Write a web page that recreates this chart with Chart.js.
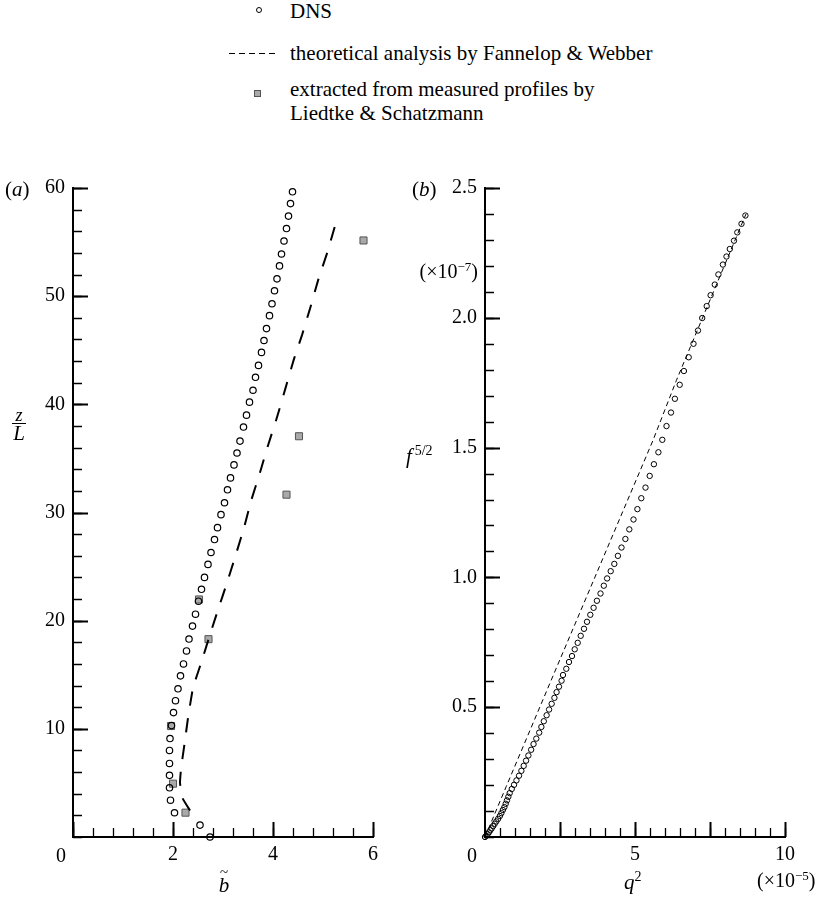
<!DOCTYPE html>
<html>
<head>
    <title>DNS vs Fannelop &amp; Webber vs Liedtke &amp; Schatzmann</title>
    <style>
        body {
            margin: 0;
            padding: 0;
            background-color: #ffffff;
            font-family: 'Liberation Serif', 'Times New Roman', serif;
            color: #000;
        }
        #wrap {
            position: relative;
            width: 823px;
            height: 901px;
            overflow: hidden;
        }
        .box {
            position: absolute;
        }
        .lbl {
            position: absolute;
            line-height: 1;
            white-space: nowrap;
        }
        .lbl sup {
            font-size: 0.65em;
            vertical-align: 0.55em;
            line-height: 0;
        }
        .it {
            font-style: italic;
        }
    </style>
    <script src="https://cdn.jsdelivr.net/npm/chart.js"></script>
</head>
<body>
<div id="wrap">
    <!-- legend -->
    <div class="box" style="left:256px;top:7px;width:6px;height:6px;border:1px solid #000;border-radius:50%;box-sizing:border-box;"></div>
    <div class="lbl" style="left:290px;top:1.4px;font-size:21px;">DNS</div>
    <div class="box" style="left:229px;top:53px;width:49px;height:1px;background:repeating-linear-gradient(90deg,#000 0 6px,transparent 6px 10px);"></div>
    <div class="lbl" style="left:290px;top:43.1px;font-size:21px;">theoretical analysis by Fannelop &amp; Webber</div>
    <div class="box" style="left:254px;top:90px;width:7px;height:7px;background:#a9a9a9;border:1px solid #555;box-sizing:border-box;"></div>
    <div class="lbl" style="left:290px;top:79.1px;font-size:21px;">extracted from measured profiles by</div>
    <div class="lbl" style="left:290px;top:103.1px;font-size:21px;">Liedtke &amp; Schatzmann</div>

    <div class="box" style="left:0;top:150px;"><canvas id="chartA" width="410" height="751"></canvas></div>
    <div class="box" style="left:410px;top:150px;"><canvas id="chartB" width="413" height="751"></canvas></div>

    <!-- panel (a) labels -->
    <div class="lbl" style="left:5px;top:179.1px;font-size:21px;">(<span class="it">a</span>)</div>
    <div class="lbl it" style="left:19px;top:405.9px;font-size:18px;transform:translateX(-50%);">z</div>
    <div class="box" style="left:12px;top:423px;width:14px;height:1px;background:#000;"></div>
    <div class="lbl it" style="left:19px;top:423.4px;font-size:21px;transform:translateX(-50%);">L</div>
    <div class="lbl" style="left:61px;top:845.3px;font-size:20px;transform:translateX(-50%);">0</div>
    <div class="lbl it" style="left:224px;top:875.4px;font-size:21px;transform:translateX(-50%);">b</div>
    <div class="lbl" style="left:220px;top:865px;font-size:15px;">~</div>

    <!-- panel (b) labels -->
    <div class="lbl" style="left:412px;top:179.1px;font-size:21px;">(<span class="it">b</span>)</div>
    <div class="lbl" style="right:345px;top:261.3px;font-size:20px;">(×10<sup>−7</sup>)</div>
    <div class="lbl" style="left:406px;top:446.4px;font-size:21px;"><span class="it">f</span><sup style="font-size:14px;vertical-align:8px;">&thinsp;5/2</sup></div>
    <div class="lbl" style="left:472px;top:845.3px;font-size:20px;transform:translateX(-50%);">0</div>
    <div class="lbl" style="left:624px;top:872.4px;font-size:21px;"><span class="it">q</span><sup style="font-size:14px;vertical-align:8px;">2</sup></div>
    <div class="lbl" style="left:757px;top:870.4px;font-size:20px;">(×10<sup>−5</sup>)</div>
</div>

<script>
    // ---- panel (a): b~ against z/L ----
    const dnsB = [2.74, 2.54, 2.03, 1.95, 1.93, 1.93, 1.93, 1.93, 1.94, 1.97,
                  2.01, 2.05, 2.10, 2.15, 2.21, 2.27, 2.32, 2.39, 2.45, 2.51,
                  2.57, 2.63, 2.70, 2.76, 2.83, 2.89, 2.96, 3.03, 3.09, 3.15,
                  3.22, 3.28, 3.34, 3.41, 3.47, 3.53, 3.60, 3.65, 3.71, 3.77,
                  3.82, 3.87, 3.93, 3.98, 4.03, 4.08, 4.13, 4.17, 4.22, 4.27,
                  4.31, 4.35, 4.39];
    const dnsZ = [0, 1.1, 2.24, 3.4, 4.55, 5.7, 6.8, 8.0, 9.1, 10.3,
                  11.5, 12.6, 13.7, 14.9, 16.0, 17.2, 18.3, 19.5, 20.6, 21.8,
                  22.9, 24.0, 25.2, 26.3, 27.5, 28.6, 29.8, 30.9, 32.1, 33.2,
                  34.4, 35.5, 36.6, 37.9, 39.0, 40.2, 41.3, 42.5, 43.6, 44.8,
                  45.9, 47.0, 48.2, 49.3, 50.5, 51.6, 52.8, 53.9, 55.1, 56.25,
                  57.4, 58.56, 59.65];

    const lsB = [2.25, 2.0, 1.96, 2.71, 2.52, 4.27, 4.52, 5.81];
    const lsZ = [2.25, 4.93, 10.26, 18.29, 21.96, 31.65, 37.05, 55.15];

    const fwB = [2.34, 2.19, 2.14, 2.16, 2.23, 2.30, 2.40, 2.57, 2.76, 2.90, 3.08, 3.25,
                 3.42, 3.57, 3.74, 3.90, 4.08, 4.25, 4.42, 4.58, 4.75, 4.91, 5.09, 5.29];
    const fwZ = [2.45, 3.6, 5.0, 6.3, 8.6, 11.0, 13.8, 16.2, 19.0, 21.0, 23.5, 26.0,
                 28.6, 31.2, 33.7, 36.2, 38.8, 41.5, 44.2, 46.4, 49.0, 51.6, 54.1, 57.3];

    const ticksAX = [0, 2, 4, 6];
    const ticksAY = [10, 20, 30, 40, 50, 60];

    // ---- panel (b): q^2 (x1e-5) against f^(5/2) (x1e-7) ----
    const dnsQ2 = [0, 0.044, 0.088, 0.131, 0.179, 0.222, 0.272, 0.323, 0.377, 0.437,
                   0.496, 0.546, 0.596, 0.646, 0.69, 0.732, 0.778, 0.823, 0.892, 0.968,
                   1.048, 1.134, 1.212, 1.29, 1.368, 1.446, 1.538, 1.618, 1.71, 1.807,
                   1.879, 1.96, 2.054, 2.136, 2.222, 2.314, 2.386, 2.467, 2.552,
                   2.6, 2.71, 2.8, 2.9, 2.99, 3.09, 3.19, 3.3, 3.4, 3.51,
                   3.62, 3.73, 3.85, 3.96, 4.07, 4.19, 4.31, 4.43, 4.55, 4.68,
                   4.81, 4.95, 5.08, 5.21, 5.35, 5.49, 5.63, 5.78, 5.91, 6.05,
                   6.2, 6.33, 6.49, 6.63, 6.79, 6.95, 7.1, 7.24, 7.39, 7.52,
                   7.66, 7.78, 7.93, 8.05, 8.16, 8.3, 8.41, 8.55, 8.68];
    const dnsF52 = [0, 0.005, 0.011, 0.018, 0.026, 0.033, 0.042, 0.051, 0.060, 0.070,
                    0.081, 0.092, 0.104, 0.115, 0.128, 0.141, 0.155, 0.169, 0.185, 0.201,
                    0.218, 0.236, 0.255, 0.274, 0.294, 0.314, 0.336, 0.358, 0.379, 0.402,
                    0.424, 0.446, 0.469, 0.491, 0.513, 0.536, 0.558, 0.579, 0.602,
                    0.624, 0.648, 0.674, 0.697, 0.723, 0.748, 0.775, 0.802, 0.829, 0.856,
                    0.883, 0.91, 0.938, 0.968, 0.996, 1.024, 1.052, 1.083, 1.115, 1.148,
                    1.185, 1.223, 1.263, 1.305, 1.346, 1.391, 1.436, 1.482, 1.53, 1.583,
                    1.635, 1.688, 1.742, 1.795, 1.848, 1.9, 1.951, 1.999, 2.045, 2.087,
                    2.128, 2.167, 2.205, 2.236, 2.265, 2.297, 2.329, 2.362, 2.394];

    const fwQ2 = [0, 0.71, 2.21, 5.6, 6.38, 8.7];
    const fwF52 = [0, 0.195, 0.605, 1.528, 1.759, 2.40];

    const ticksBX = [0, 5, 10];
    const ticksBY = [0.5, 1.0, 1.5, 2.0, 2.5];

    function pts(xs, ys) {
        return xs.map((x, i) => ({x: x, y: ys[i]}));
    }
    // tick mark positions between min and max (not data)
    function steps(min, max, step) {
        const out = [];
        for (let i = 0; min + i * step <= max + 1e-9; i++) out.push(+(min + i * step).toFixed(4));
        return out;
    }

    Chart.defaults.font.family = "'Liberation Serif', 'Times New Roman', serif";
    Chart.defaults.color = '#000';

    // inward pointing tick marks, drawn on the chart's own scales
    const inTicks = {
        id: 'inTicks',
        afterDatasetsDraw(chart, args, opts) {
            const ctx = chart.ctx;
            const area = chart.chartArea;
            ctx.save();
            ctx.strokeStyle = '#000';
            const mark = (scale, values, len, w) => {
                ctx.lineWidth = w;
                ctx.beginPath();
                values.forEach(v => {
                    const p = Math.round(scale.getPixelForValue(v)) + 0.5;
                    if (scale.isHorizontal()) {
                        ctx.moveTo(p, area.bottom);
                        ctx.lineTo(p, area.bottom - len);
                    } else {
                        ctx.moveTo(area.left, p);
                        ctx.lineTo(area.left + len, p);
                    }
                });
                ctx.stroke();
            };
            mark(chart.scales.x, opts.xMinor, 9, 1.3);
            mark(chart.scales.y, opts.yMinor, 9, 1.3);
            mark(chart.scales.x, opts.xMajor, 15, 2);
            mark(chart.scales.y, opts.yMajor, 15, 2);
            ctx.restore();
        }
    };

    function axis(min, max, step, labels, decimals, horizontal, fitSize) {
        return {
            type: 'linear',
            min: min,
            max: max,
            grid: {display: false, drawTicks: false, tickLength: 0},
            border: {display: true, color: '#000', width: 2},
            ticks: {
                stepSize: step,
                padding: horizontal ? 6 : 8,
                font: {size: 20},
                color: '#000',
                maxRotation: 0,
                autoSkip: false,
                callback: v => labels.includes(+v.toFixed(4)) && v !== 0 ? v.toFixed(decimals) : ''
            },
            afterFit: scale => {
                if (horizontal) scale.height = fitSize; else scale.width = fitSize;
            }
        };
    }

    const circleStyle = {
        pointStyle: 'circle',
        borderColor: '#000',
        backgroundColor: 'rgba(0,0,0,0)',
        showLine: false,
        clip: false
    };

    new Chart(document.getElementById('chartA'), {
        type: 'scatter',
        data: {
            datasets: [
                Object.assign({label: 'DNS', data: pts(dnsB, dnsZ), pointRadius: 3.2, borderWidth: 1.2}, circleStyle),
                {
                    label: 'theoretical analysis by Fannelop & Webber',
                    data: pts(fwB, fwZ),
                    showLine: true,
                    borderColor: '#000',
                    borderWidth: 2,
                    borderDash: [14, 13],
                    pointRadius: 0,
                    tension: 0.1,
                    clip: false
                },
                {
                    label: 'extracted from measured profiles by Liedtke & Schatzmann',
                    data: pts(lsB, lsZ),
                    pointStyle: 'rect',
                    pointRadius: 5,
                    borderWidth: 1,
                    borderColor: '#555',
                    backgroundColor: '#a9a9a9',
                    showLine: false,
                    clip: false
                }
            ]
        },
        options: {
            responsive: false,
            animation: false,
            events: [],
            layout: {padding: {left: 0, top: 38, right: 37, bottom: 0}},
            scales: {
                x: axis(0, 6, 2, ticksAX, 0, true, 64),
                y: axis(0, 60, 10, ticksAY, 0, false, 73)
            },
            plugins: {
                legend: {display: false},
                tooltip: {enabled: false},
                inTicks: {
                    xMajor: ticksAX, xMinor: steps(0, 6, 0.4),
                    yMajor: ticksAY, yMinor: steps(0, 60, 2)
                }
            }
        },
        plugins: [inTicks]
    });

    new Chart(document.getElementById('chartB'), {
        type: 'scatter',
        data: {
            datasets: [
                Object.assign({label: 'DNS', data: pts(dnsQ2, dnsF52), pointRadius: 2.7, borderWidth: 1}, circleStyle),
                {
                    label: 'theoretical analysis by Fannelop & Webber',
                    data: pts(fwQ2, fwF52),
                    showLine: true,
                    borderColor: '#000',
                    borderWidth: 1,
                    borderDash: [5, 3.5],
                    pointRadius: 0,
                    clip: false
                }
            ]
        },
        options: {
            responsive: false,
            animation: false,
            events: [],
            layout: {padding: {left: 0, top: 38, right: 38, bottom: 0}},
            scales: {
                x: axis(0, 10, 5, ticksBX, 0, true, 64),
                y: axis(0, 2.5, 0.5, ticksBY, 1, false, 75)
            },
            plugins: {
                legend: {display: false},
                tooltip: {enabled: false},
                inTicks: {
                    xMajor: [2.5, 5, 7.5, 10], xMinor: steps(0, 10, 0.5),
                    yMajor: ticksBY, yMinor: steps(0, 2.5, 0.1)
                }
            }
        },
        plugins: [inTicks]
    });
</script>
</body>
</html>
